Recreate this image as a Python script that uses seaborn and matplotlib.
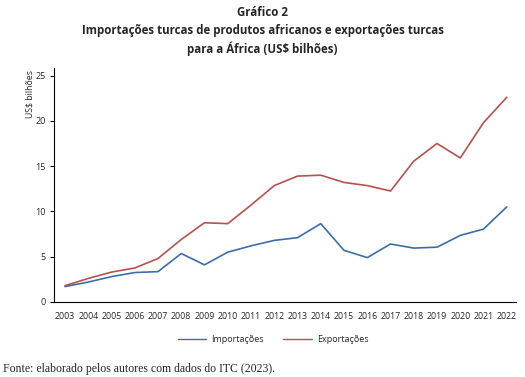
import matplotlib
matplotlib.use("Agg")
import matplotlib.pyplot as plt
import seaborn as sns
import pandas as pd
from matplotlib.lines import Line2D

years = list(range(2003, 2023))
importacoes = [1.7, 2.2, 2.8, 3.25, 3.35, 5.35, 4.1, 5.5, 6.2, 6.8, 7.1, 8.65,
               5.7, 4.9, 6.4, 5.95, 6.05, 7.35, 8.05, 10.5]
exportacoes = [1.8, 2.6, 3.3, 3.75, 4.8, 6.9, 8.75, 8.65, 10.7, 12.85, 13.9, 14.0,
               13.2, 12.85, 12.25, 15.55, 17.5, 15.9, 19.8, 22.6]
series_names = ["Importações", "Exportações"]
colors = ["#3a6eab", "#b9504c"]
yticks = [0, 5, 10, 15, 20, 25]

df = pd.DataFrame({
    "ano": years * 2,
    "valor": importacoes + exportacoes,
    "serie": [series_names[0]] * len(years) + [series_names[1]] * len(years),
})

sns.set_style("white")
plt.rcParams["font.family"] = ["Open Sans", "DejaVu Sans"]

fig = plt.figure(figsize=(5.25, 3.77), dpi=100)
ax = fig.add_axes([0.103, 0.199, 0.880, 0.621])

sns.lineplot(data=df, x="ano", y="valor", hue="serie", palette=colors,
             linewidth=1.2, ax=ax, legend=False)

ax.set_xlim(2002.53, 2022.4)
ax.set_ylim(0, 25.85)
ax.set_xticks(years)
ax.set_xticklabels([str(y) for y in years], fontsize=6.3)
ax.set_yticks(yticks)
ax.set_yticklabels([str(v) for v in yticks], fontsize=6.5)
ax.tick_params(axis="y", length=3, width=0.8, color="black", pad=3, left=True)
ax.tick_params(axis="x", length=0, pad=7)
ax.set_xlabel("")
ax.set_ylabel("")
for s in ["top", "right"]:
    ax.spines[s].set_visible(False)
for s in ["left", "bottom"]:
    ax.spines[s].set_color("black")
    ax.spines[s].set_linewidth(0.8)

fig.text(0.057, 0.815, "US$ bilhões", rotation=90, fontsize=6.3, ha="center", va="top")

handles = [Line2D([], [], color=c, linewidth=1) for c in colors]
fig.legend(handles, series_names, loc="center", bbox_to_anchor=(0.52, 0.099),
           ncol=2, frameon=False, fontsize=6.5, handlelength=3.2, columnspacing=2.2,
           handletextpad=0.5)

fig.text(0.5, 0.968, "Gráfico 2", ha="center", va="center", fontsize=8.3, fontweight="bold")
fig.text(0.5, 0.92, "Importações turcas de produtos africanos e exportações turcas",
         ha="center", va="center", fontsize=8.3, fontweight="bold")
fig.text(0.5, 0.872, "para a África (US$ bilhões)", ha="center", va="center",
         fontsize=8.3, fontweight="bold")

fig.text(0.006, 0.021, "Fonte: elaborado pelos autores com dados do ITC (2023).",
         ha="left", va="center", fontsize=8.5, family=["Liberation Serif", "DejaVu Serif"])

fig.savefig("out.png", dpi=100)
